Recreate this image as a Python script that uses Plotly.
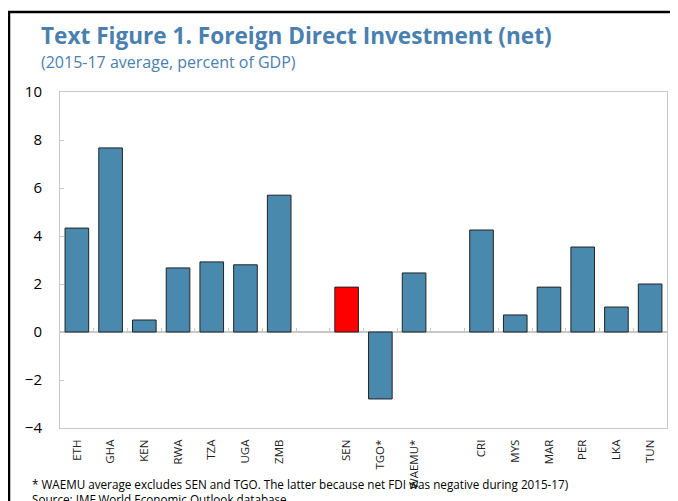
import plotly.graph_objects as go

categories = ["ETH", "GHA", "KEN", "RWA", "TZA", "UGA", "ZMB", " ",
              "SEN", "TGO*", "WAEMU*", "  ",
              "CRI", "MYS", "MAR", "PER", "LKA", "TUN"]
values = [4.33, 7.67, 0.5, 2.67, 2.92, 2.8, 5.7, None,
          1.87, -2.79, 2.46, None,
          4.25, 0.71, 1.87, 3.54, 1.04, 2.0]
highlight = "SEN"
y_ticks = [-4, -2, 0, 2, 4, 6, 8, 10]

BLUE = "#4a89ae"
RED = "#ff0000"
TITLE_BLUE = "#4a80b0"
colors = [RED if c == highlight else BLUE for c in categories]

OFF = 8  # page body margin
W, H = 678 - OFF, 501 - OFF
# target plot area in window pixels: left 60, right 667, top 92, bottom 428
L = 60 - OFF
T = 92 - OFF
R = W - (667 - OFF)
B = H - (428 - OFF)
ph = H - T - B
pw = W - L - R

def py(pix):
    return (H - B - (pix - OFF)) / ph

def px(pix):
    return ((pix - OFF) - L) / pw

fig = go.Figure()
fig.add_trace(go.Bar(x=categories, y=values,
                     marker=dict(color=colors, line=dict(color="#222222", width=1)),
                     width=0.7, xaxis="x", yaxis="y", showlegend=False))
fig.add_trace(go.Bar(x=categories, y=values,
                     marker=dict(color="rgba(0,0,0,0)", line=dict(width=0)),
                     width=0.7, xaxis="x2", yaxis="y", showlegend=False, hoverinfo="skip"))

fig.update_layout(
    width=W, height=H,
    margin=dict(l=L, r=R, t=T, b=B),
    paper_bgcolor="white", plot_bgcolor="white",
    font=dict(family="Open Sans", color="black"),
    xaxis=dict(type="category", categoryorder="array", categoryarray=categories,
               range=[-0.5, len(categories) - 0.5],
               showline=True, linecolor="#c8c8c8", linewidth=1, mirror=True,
               ticks="", tickangle=-90, ticklabelstandoff=6,
               tickfont=dict(size=11.5, family="Open Sans", color="#222222"),
               showgrid=False, zeroline=False),
    xaxis2=dict(type="category", categoryorder="array", categoryarray=categories,
                range=[-0.5, len(categories) - 0.5], matches="x",
                anchor="free", overlaying="x", position=4 / 14,
                showline=False, ticks="inside", ticklen=4, tickcolor="#c8c8c8",
                tickson="boundaries", showticklabels=False, showgrid=False, zeroline=False),
    yaxis=dict(range=[-4, 10], tickvals=y_ticks, showline=True, linecolor="#c8c8c8", linewidth=1,
               mirror=True, ticks="inside", ticklen=4, tickcolor="#c8c8c8",
               tickfont=dict(size=15, family="Open Sans"), ticklabelstandoff=14,
               showgrid=False, zeroline=True, zerolinecolor="#c8c8c8", zerolinewidth=1.5),
)

fig.add_annotation(text="<b>Text Figure 1. Foreign Direct Investment (net)</b>",
                   xref="paper", yref="paper", x=px(39), y=py(36), xanchor="left", yanchor="middle",
                   showarrow=False, font=dict(size=22.6, color=TITLE_BLUE, family="Open Sans"))
fig.add_annotation(text="(2015-17 average, percent of GDP)",
                   xref="paper", yref="paper", x=px(39), y=py(62), xanchor="left", yanchor="middle",
                   showarrow=False, font=dict(size=16, color=TITLE_BLUE, family="Open Sans"))
fig.add_annotation(text="* WAEMU average excludes SEN and TGO. The latter because net FDI was negative during 2015-17)",
                   xref="paper", yref="paper", x=px(30), y=py(484), xanchor="left", yanchor="middle",
                   showarrow=False, font=dict(size=11.7, color="black", family="Open Sans"))
fig.add_annotation(text="Source: IMF World Economic Outlook database",
                   xref="paper", yref="paper", x=px(30), y=py(499), xanchor="left", yanchor="middle",
                   showarrow=False, font=dict(size=11.7, color="black", family="Open Sans"))

# page frame: top and left black rules
fig.add_shape(type="line", xref="paper", yref="paper", x0=px(8), x1=px(678), y0=py(12), y1=py(12),
              line=dict(color="black", width=2.5))
fig.add_shape(type="line", xref="paper", yref="paper", x0=px(9), x1=px(9), y0=py(11), y1=py(520),
              line=dict(color="black", width=2.5))

fig.write_html("out.html")
